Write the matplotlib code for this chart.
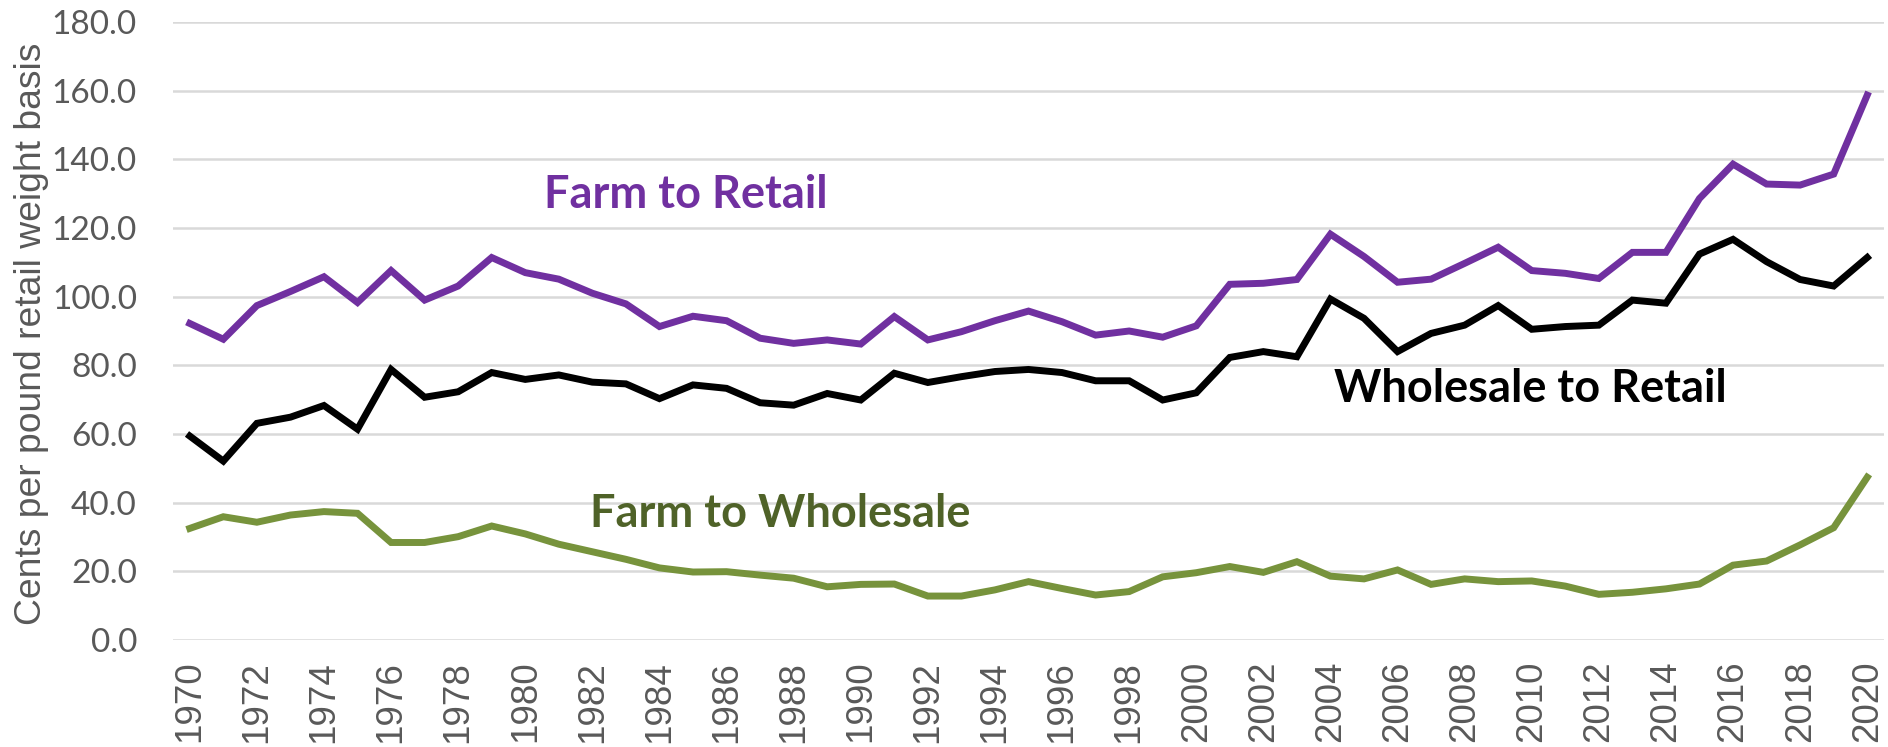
import matplotlib
matplotlib.use("Agg")
import matplotlib.pyplot as plt
import numpy as np

years = list(range(1970, 2021))

# Farm to Retail spread (cents/lb)
farm_to_retail = [92.2, 87.6, 97.4, 101.5, 105.8, 98.3, 107.6, 99.0, 103.1, 111.4,
                  107.0, 105.1, 101.0, 97.9, 91.3, 94.3, 93.0, 87.9, 86.4, 87.4,
                  86.2, 94.2, 87.4, 89.8, 93.0, 95.8, 92.7, 88.8, 90.0, 88.2,
                  91.5, 103.6, 103.9, 105.0, 118.2, 111.7, 104.2, 105.1, 109.7, 114.4,
                  107.6, 106.8, 105.3, 112.9, 112.9, 128.6, 138.6, 132.8, 132.5, 135.7,
                  158.7]

# Wholesale to Retail spread
wholesale_to_retail = [59.4, 52.1, 63.1, 64.9, 68.3, 61.4, 78.8, 70.7, 72.3, 77.9,
                       75.9, 77.2, 75.1, 74.6, 70.3, 74.3, 73.3, 69.1, 68.4, 71.8,
                       69.9, 77.7, 75.0, 76.7, 78.2, 78.8, 77.9, 75.5, 75.5, 69.9,
                       72.0, 82.3, 84.0, 82.5, 99.3, 93.7, 84.0, 89.3, 91.7, 97.4,
                       90.5, 91.3, 91.7, 99.0, 98.1, 112.4, 116.7, 110.2, 105.0, 103.1,
                       111.4]

# Farm to Wholesale spread
farm_to_wholesale = [32.5, 35.9, 34.3, 36.4, 37.4, 36.9, 28.4, 28.4, 30.1, 33.2,
                     30.9, 27.9, 25.7, 23.5, 21.0, 19.8, 19.9, 18.9, 18.0, 15.5,
                     16.2, 16.3, 12.8, 12.8, 14.6, 17.0, 15.0, 13.1, 14.1, 18.4,
                     19.6, 21.4, 19.7, 22.8, 18.6, 17.8, 20.4, 16.2, 17.8, 17.0,
                     17.2, 15.7, 13.3, 13.9, 14.9, 16.3, 21.8, 23.0, 27.7, 32.7,
                     47.4]

purple = "#7030A0"
green = "#77933C"
dark_green = "#4F6228"
grey_txt = "#595959"

fig = plt.figure(figsize=(18.88, 7.47), dpi=100)
ax = fig.add_axes([173/1888, 1-640/747, 1711/1888, 618/747])

ax.plot(years, farm_to_retail, color=purple, lw=5, solid_joinstyle="miter", zorder=3)
ax.plot(years, wholesale_to_retail, color="black", lw=5, solid_joinstyle="miter", zorder=3)
ax.plot(years, farm_to_wholesale, color=green, lw=5, solid_joinstyle="miter", zorder=3)

ax.set_xlim(1969.5, 2020.5)
ax.set_ylim(0, 180)
ax.set_yticks(np.arange(0, 181, 20))
ax.set_yticklabels(["%.1f" % v for v in np.arange(0, 181, 20)],
                   fontfamily="Lato", fontsize=24, color=grey_txt)
ax.set_xticks(years[::2])
ax.set_xticklabels([str(y) for y in years[::2]], rotation=90,
                   fontfamily="Liberation Sans", fontsize=26.5, color=grey_txt)
ax.tick_params(axis="both", length=0)
ax.tick_params(axis="y", pad=26)
ax.tick_params(axis="x", pad=15)
ax.grid(axis="y", color="#D9D9D9", lw=1.8, zorder=0)
for s in ax.spines.values():
    s.set_visible(False)

fig.text(0.0165, 1-334/747, "Cents per pound retail weight basis", rotation=90,
         ha="center", va="center", fontsize=26.8, color=grey_txt, fontfamily="Liberation Sans")

lbl = dict(fontfamily="Lato", fontweight="bold", fontsize=32.5, ha="center", va="baseline")
ax.text(1984.78, 125.8, "Farm to Retail", color=purple, **lbl)
ax.text(2009.95, 69.3, "Wholesale to Retail", color="black", **lbl)
ax.text(1987.6, 32.9, "Farm to Wholesale", color=dark_green, **lbl)

fig.savefig("out.png", dpi=100)
